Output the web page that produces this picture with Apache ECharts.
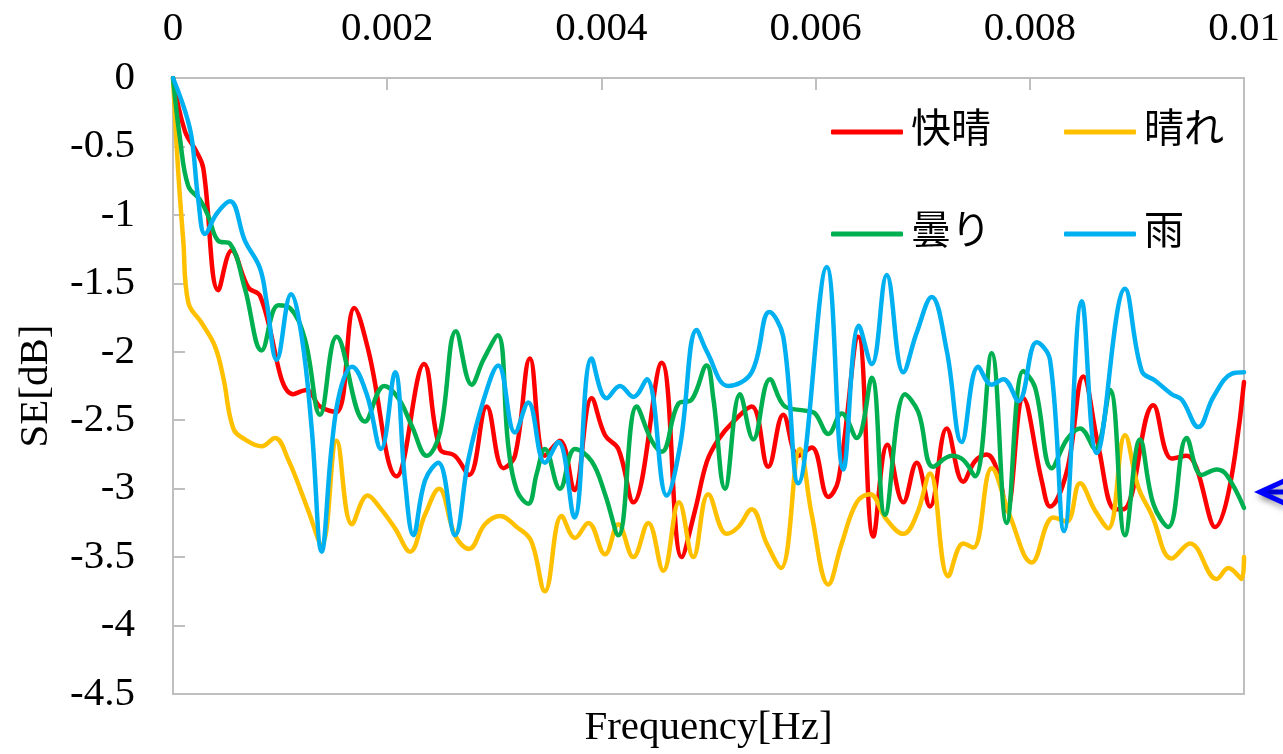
<!DOCTYPE html>
<html>
<head>
<meta charset="utf-8">
<script src="https://cdn.jsdelivr.net/npm/echarts@6/dist/echarts.min.js"></script>
<style>
html,body{margin:0;padding:0;background:#fff;}
#chart{width:1283px;height:754px;}
</style>
</head>
<body>
<div id="chart"></div>
<script>
// Frequencies in mHz (1 mHz = 0.001 Hz), values in dB
const seriesNames = ['快晴', '晴れ', '曇り', '雨'];
const xTickLabels = ['0', '0.002', '0.004', '0.006', '0.008', '0.01'];
const yTickLabels = ['0', '-0.5', '-1', '-1.5', '-2', '-2.5', '-3', '-3.5', '-4', '-4.5'];

const kaiseiFreq = [0,0.112,0.221,0.283,0.423,0.548,0.703,0.812,1.123,1.248,1.373,1.528,1.693,1.824,2.089,2.344,2.493,2.633,2.764,2.929,3.084,3.193,3.333,3.473,3.613,3.747,3.909,4.034,4.158,4.298,4.563,4.750,4.874,4.986,5.092,5.232,5.403,5.558,5.698,5.838,5.964,6.119,6.212,6.399,6.539,6.671,6.819,6.944,7.068,7.224,7.379,7.488,7.598,7.706,7.784,7.939,8.111,8.189,8.347,8.500,8.640,8.796,8.873,9.153,9.325,9.465,9.729,10.0];
const kaiseiSE = [0,-0.39,-0.54,-0.66,-1.55,-1.26,-1.53,-1.59,-2.31,-2.28,-2.40,-2.44,-1.68,-1.99,-2.91,-2.09,-2.71,-2.76,-2.90,-2.40,-2.85,-2.76,-2.05,-2.76,-2.65,-3.01,-2.34,-2.61,-2.71,-3.10,-2.08,-3.50,-3.16,-2.80,-2.64,-2.51,-2.40,-2.84,-2.46,-2.76,-2.70,-3.06,-2.94,-1.89,-3.35,-2.68,-3.10,-2.81,-3.13,-2.56,-2.95,-2.80,-2.75,-2.89,-3.16,-2.34,-2.94,-3.13,-2.87,-2.18,-2.69,-3.15,-3.15,-2.39,-2.78,-2.76,-3.28,-2.22];

const hareFreq = [0,0.049,0.096,0.143,0.268,0.392,0.470,0.563,0.672,0.828,0.952,1.077,1.263,1.388,1.528,1.671,1.818,1.933,2.073,2.213,2.353,2.484,2.633,2.764,2.913,3.053,3.209,3.343,3.473,3.629,3.754,3.878,4.034,4.158,4.298,4.438,4.578,4.725,4.858,4.998,5.170,5.278,5.403,5.543,5.677,5.854,5.964,6.119,6.244,6.384,6.508,6.657,6.819,6.944,7.068,7.239,7.379,7.473,7.644,7.815,8.018,8.220,8.345,8.469,8.609,8.733,8.889,9.013,9.138,9.325,9.496,9.745,9.854,9.978,10.0];
const hareSE = [0,-0.69,-1.19,-1.64,-1.79,-1.96,-2.19,-2.56,-2.64,-2.69,-2.63,-2.79,-3.16,-3.41,-2.65,-3.26,-3.05,-3.14,-3.29,-3.46,-3.19,-3.00,-3.34,-3.44,-3.26,-3.20,-3.28,-3.38,-3.75,-3.20,-3.36,-3.25,-3.48,-3.26,-3.50,-3.25,-3.60,-3.10,-3.50,-3.04,-3.33,-3.28,-3.15,-3.40,-3.58,-2.71,-3.19,-3.70,-3.40,-3.10,-3.04,-3.22,-3.33,-3.19,-2.89,-3.64,-3.40,-3.43,-2.85,-3.20,-3.54,-3.21,-3.24,-2.96,-3.16,-3.29,-2.61,-2.99,-3.19,-3.51,-3.40,-3.66,-3.58,-3.66,-3.50];

const kumoriFreq = [0,0.065,0.143,0.252,0.330,0.423,0.532,0.672,0.828,0.983,1.092,1.232,1.373,1.528,1.793,1.973,2.104,2.229,2.369,2.493,2.642,2.789,2.897,3.032,3.131,3.209,3.317,3.396,3.473,3.613,3.754,3.909,4.034,4.158,4.330,4.470,4.563,4.718,4.843,4.983,5.045,5.154,5.294,5.418,5.574,5.714,5.901,5.994,6.119,6.244,6.384,6.524,6.648,6.835,6.959,7.099,7.271,7.379,7.488,7.644,7.784,7.939,8.049,8.205,8.347,8.469,8.609,8.749,8.889,9.029,9.153,9.293,9.465,9.605,9.745,9.838,10.0];
const kumoriSE = [0,-0.44,-0.79,-0.89,-1.01,-1.19,-1.21,-1.54,-1.99,-1.66,-1.68,-1.91,-2.46,-1.89,-2.51,-2.25,-2.34,-2.54,-2.76,-2.59,-1.85,-2.24,-2.06,-1.88,-2.69,-3.01,-3.11,-2.89,-2.71,-3.00,-2.71,-2.80,-3.04,-3.34,-2.40,-2.65,-2.73,-2.38,-2.35,-2.10,-2.34,-3.00,-2.31,-2.64,-2.20,-2.40,-2.43,-2.45,-2.60,-2.45,-2.63,-2.19,-3.19,-2.31,-2.44,-2.84,-2.76,-2.79,-2.91,-2.01,-3.25,-2.14,-2.26,-2.85,-2.64,-2.56,-2.71,-2.28,-3.34,-2.64,-3.11,-3.28,-2.63,-2.90,-2.86,-2.90,-3.14];

const ameFreq = [0,0.112,0.175,0.236,0.299,0.408,0.532,0.672,0.812,0.875,0.968,1.102,1.202,1.295,1.388,1.482,1.559,1.671,1.809,1.942,2.073,2.166,2.244,2.353,2.477,2.633,2.757,2.897,3.037,3.193,3.317,3.473,3.598,3.747,3.909,4.049,4.174,4.298,4.423,4.610,4.734,4.890,4.986,5.185,5.403,5.568,5.698,5.838,6.104,6.259,6.405,6.524,6.664,6.819,6.944,7.084,7.224,7.364,7.519,7.644,7.753,7.893,8.064,8.189,8.320,8.485,8.625,8.889,9.045,9.169,9.325,9.419,9.574,9.714,9.888,10.0];
const ameSE = [0,-0.24,-0.44,-0.89,-1.14,-0.99,-0.90,-1.19,-1.39,-1.64,-2.06,-1.58,-1.89,-2.56,-3.46,-2.69,-2.29,-2.11,-2.31,-2.71,-2.15,-2.94,-3.34,-2.94,-2.81,-3.34,-2.79,-2.36,-2.10,-2.59,-2.37,-2.81,-2.66,-3.21,-2.05,-2.34,-2.25,-2.33,-2.20,-3.05,-2.69,-1.84,-2.00,-2.25,-2.15,-1.71,-1.89,-2.96,-1.38,-2.86,-1.81,-2.09,-1.44,-2.15,-1.86,-1.60,-1.99,-2.66,-2.11,-2.24,-2.20,-2.36,-1.93,-2.06,-3.31,-1.63,-2.74,-1.54,-2.14,-2.21,-2.31,-2.35,-2.55,-2.33,-2.16,-2.15];

const colors = ['#FF0000', '#FFC000', '#00B050', '#00B0F0'];

function pairs(freqMilliHz, vals) {
  return freqMilliHz.map((f, i) => [f / 1000, vals[i]]);
}

const serif = '"Liberation Serif", "Times New Roman", serif';
const cjk = '"Liberation Serif", "Noto Sans CJK JP", serif';

const chart = echarts.init(document.getElementById('chart'), null, {renderer: 'canvas'});

const seriesData = [
  pairs(kaiseiFreq, kaiseiSE),
  pairs(hareFreq, hareSE),
  pairs(kumoriFreq, kumoriSE),
  pairs(ameFreq, ameSE)
];

const legendCommon = {
  left: 826,
  orient: 'horizontal',
  itemWidth: 72,
  itemHeight: 5,
  itemGap: 73,
  icon: 'roundRect',
  textStyle: {fontFamily: cjk, fontSize: 40, color: '#000', padding: [0, 0, 0, 3]},
  selectedMode: false
};

chart.setOption({
  animation: false,
  backgroundColor: '#fff',
  grid: {left: 173, right: 39, top: 78, bottom: 56, show: true, borderColor: '#bfbfbf', borderWidth: 2},
  legend: [
    Object.assign({}, legendCommon, {top: 107, data: [seriesNames[0], seriesNames[1]]}),
    Object.assign({}, legendCommon, {top: 209, data: [seriesNames[2], seriesNames[3]]})
  ],
  xAxis: [
    {
      type: 'value', position: 'top', min: 0, max: 0.01, interval: 0.002,
      axisLine: {show: true, lineStyle: {color: '#bfbfbf', width: 2}},
      axisTick: {show: true, inside: true, length: 12, lineStyle: {color: '#bfbfbf', width: 2}},
      axisLabel: {
        fontFamily: serif, fontSize: 41, color: '#000', margin: 28,
        showMinLabel: true, showMaxLabel: true,
        formatter: (v) => xTickLabels[Math.round(v / 0.002)]
      },
      splitLine: {show: false}
    },
    {
      type: 'value', position: 'bottom', min: 0, max: 0.01,
      axisLine: {show: false}, axisTick: {show: false}, axisLabel: {show: false}, splitLine: {show: false},
      name: 'Frequency[Hz]', nameLocation: 'middle', nameGap: 14,
      nameTextStyle: {fontFamily: serif, fontSize: 41, color: '#000', verticalAlign: 'top'}
    }
  ],
  yAxis: {
    type: 'value', min: -4.5, max: 0, interval: 0.5,
    axisLine: {show: true, lineStyle: {color: '#bfbfbf', width: 2}},
    axisTick: {show: true, inside: true, length: 12, lineStyle: {color: '#bfbfbf', width: 2}},
    axisLabel: {
      fontFamily: serif, fontSize: 41, color: '#000', margin: 38,
      showMinLabel: true, showMaxLabel: true,
      formatter: (v) => yTickLabels[Math.round(-v / 0.5)]
    },
    splitLine: {show: false},
    name: 'SE[dB]', nameLocation: 'middle', nameGap: 116, nameRotate: 90,
    nameTextStyle: {fontFamily: serif, fontSize: 41, color: '#000'}
  },
  series: seriesNames.map((name, i) => ({
    name: name,
    type: 'line',
    xAxisIndex: 0,
    data: seriesData[i],
    smooth: 0.4,
    showSymbol: false,
    symbol: 'none',
    color: colors[i],
    lineStyle: {color: colors[i], width: 4.5, cap: 'round', join: 'round'},
    z: 2 + i
  })),
  graphic: [
    {
      type: 'group',
      children: [
        {type: 'line', shape: {x1: 1262, y1: 492, x2: 1295, y2: 492},
         style: {stroke: '#0000FF', lineWidth: 5, shadowBlur: 6, shadowOffsetX: 2, shadowOffsetY: 4, shadowColor: 'rgba(0,0,0,0.35)'}},
        {type: 'polyline', shape: {points: [[1284, 481], [1260, 492], [1284, 503]]},
         style: {stroke: '#0000FF', fill: null, lineWidth: 5, lineJoin: 'miter', shadowBlur: 6, shadowOffsetX: 2, shadowOffsetY: 4, shadowColor: 'rgba(0,0,0,0.35)'}}
      ]
    }
  ]
});
</script>
</body>
</html>
